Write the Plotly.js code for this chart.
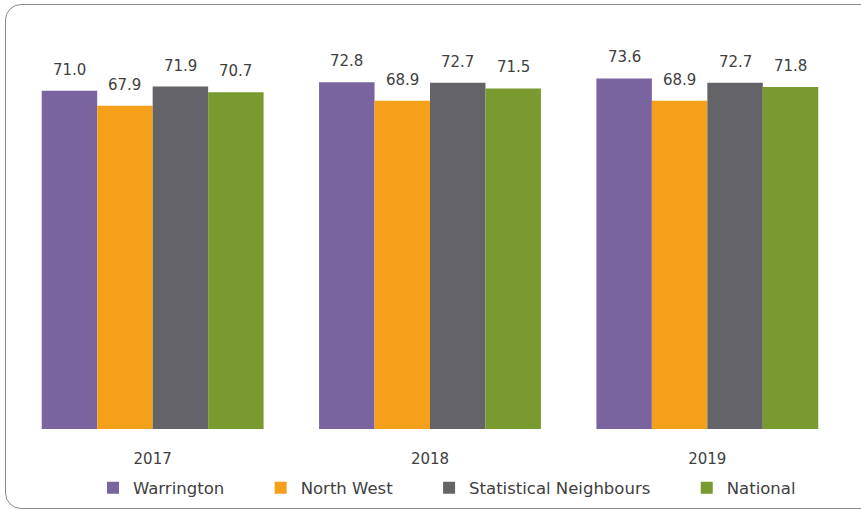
<!DOCTYPE html>
<html><head><meta charset="utf-8">
<script src="https://cdn.plot.ly/plotly-3.0.1.min.js"></script>
<style>
html,body{margin:0;padding:0;width:861px;height:510px;overflow:hidden;background:#fff;}
#frame{position:absolute;left:5px;top:4px;width:880px;height:505px;border:1.5px solid #8c8c8c;border-radius:16px;box-sizing:border-box;}
#chart{position:absolute;left:0;top:0;width:861px;height:510px;}
</style></head>
<body><div id="frame"></div><div id="chart"></div>
<script>
// ---- data ----
const years = ['2017', '2018', '2019'];
const seriesNames = ['Warrington', 'North West', 'Statistical Neighbours', 'National'];
const warrington = [71.0, 72.8, 73.6];
const northWest = [67.9, 68.9, 68.9];
const statNeighbours = [71.9, 72.7, 72.7];
const national = [70.7, 71.5, 71.8];
const seriesValues = [warrington, northWest, statNeighbours, national];
const seriesColors = ['#7A64A0', '#F5A01A', '#646468', '#799A2F'];

const textColor = '#404040';
const fontFam = 'DejaVu Sans, Verdana, sans-serif';
const bargap = 0.2;
const pad = '\u00A0'.repeat(6);

const traces = seriesValues.map((vals, i) => ({
  type: 'bar',
  name: seriesNames[i] + (i < seriesValues.length - 1 ? pad : ''),
  x: years,
  y: vals,
  marker: {color: seriesColors[i], line: {width: 0}},
  hoverinfo: 'skip'
}));

// value labels above bars, positioned through the category axis
const n = seriesValues.length;
const barW = (1 - bargap) / n;
const annotations = [];
seriesValues.forEach((vals, j) => {
  const off = (j - (n - 1) / 2) * barW;
  vals.forEach((v, k) => {
    annotations.push({
      x: k + off, y: v, xref: 'x', yref: 'y',
      text: v.toFixed(1), showarrow: false,
      xanchor: 'center', yanchor: 'bottom', yshift: 10,
      font: {family: fontFam, size: 15, color: textColor}
    });
  });
});

const layout = {
  width: 861, height: 510,
  margin: {l: 14, r: 15, t: 48, b: 80.5, pad: 0},
  paper_bgcolor: 'rgba(0,0,0,0)',
  plot_bgcolor: 'rgba(0,0,0,0)',
  barmode: 'group',
  bargap: bargap,
  bargroupgap: 0,
  showlegend: true,
  font: {family: fontFam, color: textColor},
  xaxis: {
    type: 'category',
    showgrid: false, zeroline: false, showline: false,
    ticks: 'outside', ticklen: 16, tickcolor: 'rgba(0,0,0,0)',
    tickfont: {family: fontFam, size: 15, color: textColor},
    fixedrange: true
  },
  yaxis: {
    range: [0, 80], visible: false, showgrid: false, zeroline: false, fixedrange: true
  },
  legend: {
    orientation: 'h',
    xref: 'container', yref: 'container',
    x: 93 / 861, xanchor: 'left',
    y: 1 - 488 / 510, yanchor: 'middle',
    font: {family: fontFam, size: 16.5, color: textColor},
    bgcolor: 'rgba(0,0,0,0)',
    traceorder: 'normal'
  },
  annotations: annotations
};

Plotly.newPlot('chart', traces, layout, {displayModeBar: false, staticPlot: true});
</script>
</body></html>
